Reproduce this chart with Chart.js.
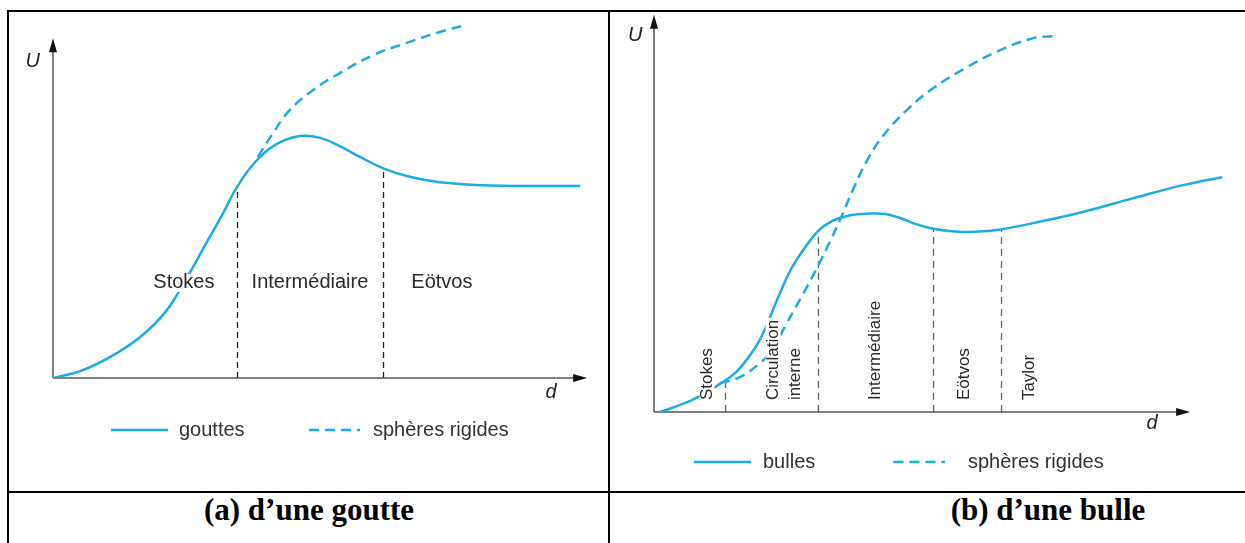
<!DOCTYPE html>
<html>
<head>
<meta charset="utf-8">
<script src="https://cdn.jsdelivr.net/npm/chart.js@4.4.0/dist/chart.umd.min.js"></script>
<style>
  body { margin: 0; background: #fff; width: 1245px; height: 543px; overflow: hidden; position: relative; }
  .rule { position: absolute; background: #000; }
  .cap { position: absolute; top: 492px; height: 44px; line-height: 44px; text-align: center;
         font: bold 31px "Liberation Serif", "Times New Roman", serif; color: #000; }
  canvas { position: absolute; }
</style>
</head>
<body>
<div class="rule" style="left:7px;top:10px;width:1238px;height:1.5px"></div>
<div class="rule" style="left:7px;top:10px;width:2px;height:533px"></div>
<div class="rule" style="left:608px;top:10px;width:2px;height:533px"></div>
<div class="rule" style="left:7px;top:491px;width:1238px;height:2px"></div>
<div class="cap" style="left:9px;width:600px">(a) d’une goutte</div>
<div class="cap" style="left:848px;width:400px">(b) d’une bulle</div>

<div style="position:absolute;left:10px;top:12px;width:597px;height:478px"><canvas id="chartA"></canvas></div>
<div style="position:absolute;left:611px;top:12px;width:633px;height:478px"><canvas id="chartB"></canvas></div>

<script>
// (a) gouttes : d (abscisse) et U (ordonnée), unités arbitraires
var gouttesD = [0, 5.1, 10.7, 16.4, 21.1, 24.8, 28.6, 31.8, 34.6, 38.0, 41.7, 46.4, 50.2, 53.9, 57.7, 62.0, 66.5, 72.7, 82.1, 99.1];
var gouttesU = [0, 1.9, 5.8, 11.4, 18.3, 26.9, 36.9, 45.3, 53.1, 60.0, 64.7, 67.2, 66.7, 64.4, 61.4, 58.3, 56.1, 54.4, 53.5, 53.3];
var spheresAD = [38.5, 41.4, 44.5, 48.9, 53.9, 60.2, 66.5, 72.7, 77.8];
var spheresAU = [61.4, 68.1, 74.4, 80.0, 84.7, 89.7, 93.1, 96.1, 98.1];
var regimesA = ["Stokes", "Intermédiaire", "Eötvos"];
var regimesAD = [24.6, 48.3, 73.1];
var boundsA = [34.6, 62.0];
var boundsATop = [53.1, 58.3];

// (b) bulles
var bullesD = [1.1, 4.9, 8.6, 12.3, 15.1, 17.5, 19.4, 20.9, 22.4, 23.9, 25.7, 28.0, 30.6, 33.2, 36.6, 40.3, 43.1, 45.9, 48.7, 52.1, 56.2, 59.9, 64.6, 70.7, 80.0, 89.4, 98.7, 106.0];
var bullesU = [0, 1.8, 4.0, 7.1, 9.8, 13.6, 17.4, 21.5, 26.5, 31.3, 36.4, 41.2, 45.7, 48.2, 49.7, 50.1, 50.0, 49.0, 47.5, 46.3, 45.6, 45.5, 46.1, 47.7, 50.5, 54.0, 57.3, 59.3];
var spheresBD = [12.3, 16.0, 19.8, 22.0, 24.8, 27.8, 30.6, 32.8, 34.7, 37.1, 39.7, 42.7, 47.2, 52.1, 58.4, 64.6, 70.7, 74.4];
var spheresBU = [7.3, 8.8, 12.4, 15.7, 22.5, 29.8, 36.9, 43.0, 48.5, 56.1, 63.4, 69.7, 76.3, 81.8, 87.1, 91.4, 94.4, 94.9];
var regimesB = [["Stokes"], ["Circulation", "interne"], ["Intermédiaire"], ["Eötvos"], ["Taylor"]];
var regimesBD = [9.9, 24.3, 41.2, 57.8, 70.0];
var boundsB = [13.2, 30.6, 52.1, 64.7];
var boundsBTop = [8.0, 45.7, 46.3, 46.1];

var blue = "#1aace6";
var sans = '"Liberation Sans", Arial, sans-serif';

function pts(xs, ys) { return xs.map((x, i) => ({x: x, y: ys[i]})); }

function arrowHead(ctx, x, y, dir) {
  ctx.beginPath();
  if (dir === "up") { ctx.moveTo(x, y); ctx.lineTo(x - 4, y + 14); ctx.lineTo(x + 4, y + 14); }
  else { ctx.moveTo(x, y); ctx.lineTo(x - 14, y - 4); ctx.lineTo(x - 14, y + 4); }
  ctx.closePath();
  ctx.fill();
}

const figure = {
  id: "figure",
  beforeDatasetsDraw(chart, args, o) {
    const ctx = chart.ctx, xs = chart.scales.x, ys = chart.scales.y;
    const x0 = xs.getPixelForValue(0), y0 = ys.getPixelForValue(0);
    ctx.save();
    // limites entre régimes
    ctx.strokeStyle = o.boundColor;
    ctx.lineWidth = 1.3;
    ctx.setLineDash(o.boundDash);
    o.bounds.forEach((d, i) => {
      const x = Math.round(xs.getPixelForValue(d)) + 0.5;
      ctx.beginPath();
      ctx.moveTo(x, y0);
      ctx.lineTo(x, ys.getPixelForValue(o.boundTops[i]));
      ctx.stroke();
    });
    // axes
    ctx.setLineDash([]);
    ctx.strokeStyle = "#555";
    ctx.fillStyle = "#111";
    ctx.lineWidth = 1.5;
    const xt = xs.getPixelForValue(o.xTip), yt = ys.getPixelForValue(o.yTip);
    ctx.beginPath();
    ctx.moveTo(x0, y0); ctx.lineTo(x0, yt + 10);
    ctx.moveTo(x0, y0); ctx.lineTo(xt - 10, y0);
    ctx.stroke();
    arrowHead(ctx, x0, yt, "up");
    arrowHead(ctx, xt, y0, "right");
    // noms des axes
    ctx.font = "italic 20px " + sans;
    ctx.fillStyle = "#222";
    ctx.textAlign = "center";
    ctx.textBaseline = "middle";
    ctx.fillText("U", xs.getPixelForValue(o.uPos[0]), ys.getPixelForValue(o.uPos[1]));
    ctx.fillText("d", xs.getPixelForValue(o.dPos[0]), ys.getPixelForValue(o.dPos[1]));
    ctx.restore();
  },
  afterDatasetsDraw(chart, args, o) {
    const ctx = chart.ctx, xs = chart.scales.x, ys = chart.scales.y, area = chart.chartArea;
    ctx.save();
    ctx.font = o.labelFont;
    ctx.textBaseline = "middle";
    o.labels.forEach((lab, i) => {
      const lines = Array.isArray(lab) ? lab : [lab];
      const x = xs.getPixelForValue(o.labelD[i]), y = ys.getPixelForValue(o.labelU);
      ctx.save();
      ctx.translate(x, y);
      if (o.rotate) ctx.rotate(-Math.PI / 2);
      lines.forEach((t, k) => {
        const off = (k - (lines.length - 1) / 2) * o.lineGap;
        const w = ctx.measureText(t).width;
        const lx = o.rotate ? 0 : -w / 2;
        ctx.fillStyle = "#fff";
        ctx.fillRect(lx - 2, off - o.boxH / 2, w + 4, o.boxH);
        ctx.fillStyle = "#2a2a2a";
        ctx.textAlign = "left";
        ctx.fillText(t, lx, off);
      });
      ctx.restore();
    });
    // légende
    ctx.font = "20px " + sans;
    ctx.textAlign = "left";
    const ly = area.bottom + o.legendDy;
    chart.data.datasets.forEach((ds, i) => {
      const lx = area.left + o.legendX[i];
      ctx.strokeStyle = ds.borderColor;
      ctx.lineWidth = 2.5;
      ctx.setLineDash(ds.borderDash || []);
      ctx.beginPath();
      ctx.moveTo(lx, ly); ctx.lineTo(lx + o.legendLen[i], ly);
      ctx.stroke();
      ctx.fillStyle = "#333";
      ctx.fillText(ds.label, lx + o.legendGap[i], ly);
    });
    ctx.restore();
  }
};

function makeChart(id, sets, xMax, pad, fig) {
  return new Chart(id, {
    type: "scatter",
    data: {
      datasets: sets.map(s => ({
        label: s.label,
        data: s.data,
        showLine: true,
        borderColor: blue,
        borderWidth: 2.5,
        borderDash: s.dash,
        pointRadius: 0,
        fill: false,
        tension: 0.4
      }))
    },
    options: {
      responsive: true,
      maintainAspectRatio: false,
      animation: false,
      layout: {padding: pad},
      scales: {
        x: {type: "linear", min: 0, max: xMax, display: false},
        y: {min: 0, max: 100, display: false}
      },
      plugins: {legend: {display: false}, tooltip: {enabled: false}, figure: fig}
    },
    plugins: [figure]
  });
}

makeChart("chartA", [
  {label: "gouttes", data: pts(gouttesD, gouttesU), dash: []},
  {label: "sphères rigides", data: pts(spheresAD, spheresAU), dash: [10, 6]}
], 100, {left: 43, top: 6, right: 22, bottom: 112}, {
  bounds: boundsA, boundTops: boundsATop, boundColor: "#222", boundDash: [6, 4],
  xTip: 100.4, yTip: 94.4, uPos: [-3.8, 87.8], dPos: [93.6, -3.9],
  labels: regimesA, labelD: regimesAD, labelU: 26.4, rotate: false,
  labelFont: "20px " + sans, lineGap: 0, boxH: 18,
  legendDy: 52, legendX: [58, 256], legendLen: [57, 51], legendGap: [68, 64]
});

makeChart("chartB", [
  {label: "bulles", data: pts(bullesD, bullesU), dash: []},
  {label: "sphères rigides", data: pts(spheresBD, spheresBU), dash: [10, 6]}
], 108, {left: 43, top: 4, right: 11, bottom: 78}, {
  bounds: boundsB, boundTops: boundsBTop, boundColor: "#666", boundDash: [7, 5],
  xTip: 100, yTip: 100.3, uPos: [-3.5, 95.2], dPos: [92.9, -2.8],
  labels: regimesB, labelD: regimesBD, labelU: 3.0, rotate: true,
  labelFont: "17px " + sans, lineGap: 22.5, boxH: 15,
  legendDy: 50, legendX: [40, 239.5], legendLen: [57, 51.5], legendGap: [69, 74.5]
});
</script>
</body>
</html>
